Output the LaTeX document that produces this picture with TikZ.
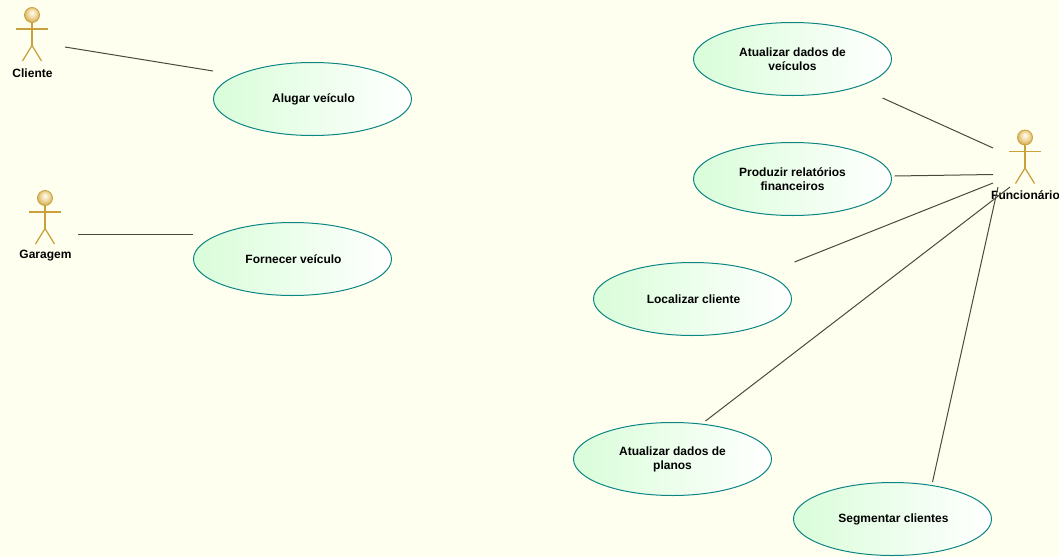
\documentclass[tikz,border=0pt]{standalone}
\usepackage{fontspec}
\setmainfont{Liberation Sans}
\usetikzlibrary{shapes.geometric}
\definecolor{bgivory}{HTML}{FFFFF0}
\definecolor{ucborder}{HTML}{0E8585}
\definecolor{ucgreen}{HTML}{D9FDD9}
\definecolor{actorgold}{HTML}{C9A03C}
\definecolor{linkdark}{HTML}{4A4A3C}
\definecolor{ballA}{HTML}{FFFCF0}
\definecolor{ballB}{HTML}{F3E0B0}
\definecolor{ballC}{HTML}{D9B25A}
\definecolor{ballD}{HTML}{C49A38}
\pgfdeclareradialshading{actorball}{\pgfpoint{0bp}{8bp}}{%
  color(0bp)=(ballA);
  color(12bp)=(ballB);
  color(26bp)=(ballC);
  color(36bp)=(ballD);
  color(50bp)=(ballD)}
\tikzset{
  usecase/.style={ellipse,draw=ucborder,line width=1pt,left color=ucgreen,right color=white,
    minimum width=198pt,minimum height=73pt,inner sep=0pt,align=center,
    font=\fontsize{12}{14}\selectfont\bfseries,text=black},
  actorhead/.style={circle,draw=actorgold,line width=0.8pt,minimum size=15pt,inner sep=0pt,
    shading=actorball},
  actorlimb/.style={draw=actorgold,line width=1.25pt},
  actorlabel/.style={inner sep=0pt,font=\fontsize{12}{14}\selectfont\bfseries,text=black},
  linkline/.style={draw=linkdark,line width=1pt},
}
\newcommand{\umlactor}[4]{%
  \node[actorhead] (#1) at (#2,#3) {};
  \draw[actorlimb] ([shift={(-16,14)}]#1.center) -- ([shift={(16,14)}]#1.center);
  \draw[actorlimb] (#1.south) -- ([shift={(0,30.5)}]#1.center);
  \draw[actorlimb] ([shift={(-9.5,46)}]#1.center) -- ([shift={(0,30.5)}]#1.center) -- ([shift={(9.5,46)}]#1.center);
  \node[actorlabel] (#1label) at (#2+0.5,#3+58) {#4};
}
\newcommand{\oneline}[1]{\raisebox{-1pt}{\kern2pt #1}}
\begin{document}
\begin{tikzpicture}[x=1pt,y=-1pt]
\useasboundingbox (0,0) rectangle (1059,557);
\fill[bgivory] (0,0) rectangle (1059,557);

\node[usecase] (alugar) at (312.5,99) {\oneline{Alugar veículo}};
\node[usecase] (fornecer) at (292.5,259) {\oneline{Fornecer veículo}};
\node[usecase] (atualveic) at (792.5,59) {Atualizar dados de\\veículos};
\node[usecase] (relat) at (792.5,179) {Produzir relatórios\\financeiros};
\node[usecase] (localizar) at (692.5,299) {\oneline{Localizar cliente}};
\node[usecase] (atualplan) at (672.5,459) {Atualizar dados de\\planos};
\node[usecase] (segmentar) at (892.5,519) {\oneline{Segmentar clientes}};

\umlactor{cliente}{32}{15}{Cliente}
\umlactor{garagem}{45}{198}{Garagem}
\umlactor{func}{1025}{137.5}{Funcionário}

\draw[linkline] ([shift={(33,32)}]cliente.center) -- ([shift={(0,-28)}]alugar.west);
\draw[linkline] ([shift={(33,36)}]garagem.center) -- ([shift={(0,-25)}]fornecer.west);
\draw[linkline] ([shift={(90,39)}]atualveic.center) -- ([shift={(-32,10.5)}]func.center);
\draw[linkline] ([shift={(102,-3)}]relat.center) -- ([shift={(-32,37)}]func.center);
\draw[linkline] ([shift={(102,-37)}]localizar.center) -- ([shift={(-32,45.5)}]func.center);
\draw[linkline] ([shift={(33,-38)}]atualplan.center) -- ([shift={(-15,49.5)}]func.center);
\draw[linkline] ([shift={(40,-37)}]segmentar.center) -- ([shift={(-27,49.5)}]func.center);
\end{tikzpicture}
\end{document}
